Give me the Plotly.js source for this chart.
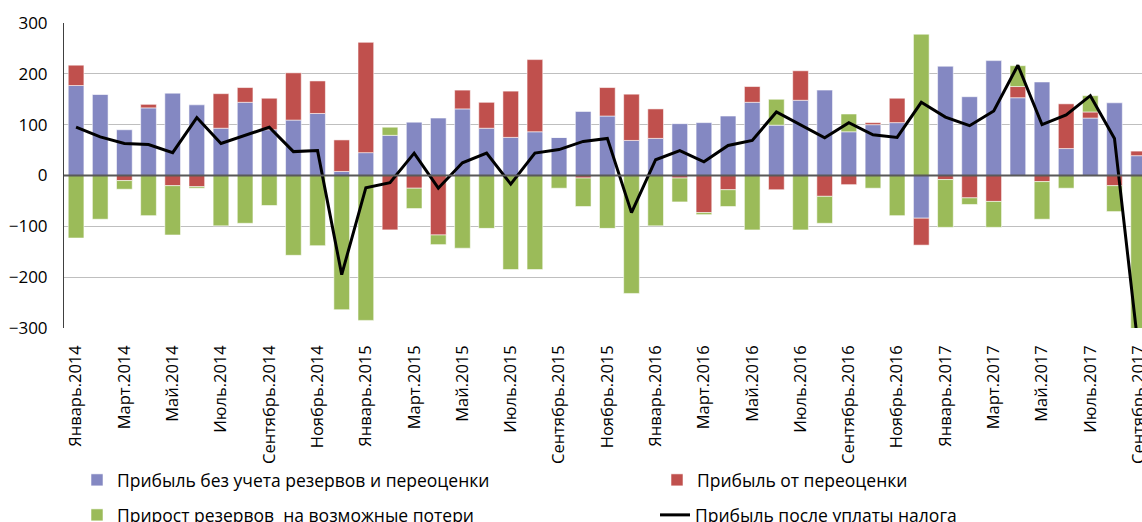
<!DOCTYPE html>
<html>
<head>
<meta charset="utf-8">
<script src="https://cdn.plot.ly/plotly-3.0.1.min.js"></script>
<style>
html,body{margin:0;padding:0;background:#fff;overflow:hidden;}
#chart{width:1142px;height:522px;}
</style>
</head>
<body>
<div id="chart"></div>
<script>
var monthNames = ["Январь","Февраль","Март","Апрель","Май","Июнь","Июль","Август","Сентябрь","Октябрь","Ноябрь","Декабрь"];
var years = [2014, 2015, 2016, 2017];
var lastMonthCount = 9; // data through Сентябрь.2017

var categories = [];
years.forEach(function (yr, yi) {
  var n = (yi === years.length - 1) ? lastMonthCount : 12;
  for (var m = 0; m < n; m++) categories.push(monthNames[m] + "." + yr);
});

var profitCore = [177,160,90,133,162,139,93,144,90,109,122,8,
                  45,79,105,113,131,93,75,86,75,126,117,69,
                  73,102,104,117,144,99,148,168,86,100,104,-84,
                  215,155,226,153,184,53,113,143,39];
var profitRevaluation = [40,0,-10,7,-20,-22,68,29,62,93,64,62,
                         217,-107,-25,-117,37,51,91,142,0,-5,56,91,
                         58,-5,-73,-28,31,-28,58,-41,-18,4,48,-53,
                         -8,-44,-51,22,-12,88,12,-20,9];
var reserveGrowth = [-123,-86,-17,-79,-97,-3,-99,-94,-59,-157,-138,-264,
                     -285,16,-40,-19,-143,-104,-185,-185,-25,-56,-104,-232,
                     -99,-47,-4,-33,-107,51,-107,-53,35,-25,-79,278,
                     -94,-13,-51,41,-74,-25,32,-51,-390];
var netProfit = [95,76,63,61,45,114,63,79,95,47,49,-195,
                 -24,-14,44,-25,25,44,-17,44,51,67,73,-73,
                 31,49,27,59,69,125,100,74,104,80,75,144,
                 115,98,127,217,100,119,157,73,-345];

var seriesNames = ["Прибыль без учета резервов и переоценки",
                   "Прибыль от переоценки",
                   "Прирост резервов  на возможные потери",
                   "Прибыль после уплаты налога"];

var tickCats = categories.filter(function (c, i) { return i % 2 === 0; });

var FONT = "'Open Sans', Lato, 'DejaVu Sans', sans-serif";
var barLine = {color: "rgba(255,255,255,0.55)", width: 1};

var traces = [
  {type: "bar", name: seriesNames[0], x: categories, y: profitCore,
   marker: {color: "#8488c2", line: barLine}, legend: "legend"},
  {type: "bar", name: seriesNames[1], x: categories, y: profitRevaluation,
   marker: {color: "#c0504d", line: barLine}, legend: "legend2"},
  {type: "bar", name: seriesNames[2], x: categories, y: reserveGrowth,
   marker: {color: "#9bbb59", line: barLine}, legend: "legend3"},
  {type: "scatter", mode: "lines", name: seriesNames[3], x: categories, y: netProfit,
   line: {color: "#000000", width: 3}, legend: "legend4"}
];

var W = 1142, H = 522;
function leg(px, py) {
  return {
    orientation: "h", xref: "container", yref: "container",
    x: px / W, y: 1 - py / H, xanchor: "left", yanchor: "middle",
    itemwidth: 30,
    font: {family: FONT, size: 17.5, color: "#000"},
    bgcolor: "rgba(0,0,0,0)", borderwidth: 0
  };
}

var layout = {
  width: W, height: H,
  margin: {l: 64, r: 0, t: 23, b: 194, pad: 0, autoexpand: false},
  paper_bgcolor: "#ffffff", plot_bgcolor: "#ffffff",
  barmode: "relative", bargap: 0.35,
  font: {family: FONT, size: 17, color: "#000"},
  xaxis: {
    type: "category", categoryorder: "array", categoryarray: categories,
    range: [-0.5, 44.14],
    tickmode: "array", tickvals: tickCats, ticktext: tickCats,
    tickangle: -90, ticks: "", showgrid: false, zeroline: false,
    showline: false, automargin: false, ticklabelstandoff: 13,
    tickfont: {family: FONT, size: 16.5, color: "#000"}
  },
  yaxis: {
    range: [-300, 300], tickmode: "array",
    tickvals: [-300,-200,-100,0,100,200,300],
    ticks: "", showgrid: true, gridcolor: "#bfbfbf", gridwidth: 1.3,
    zeroline: false, showline: true, linecolor: "#404040", linewidth: 1,
    ticklabelstandoff: 12, automargin: false,
    tickfont: {family: FONT, size: 17, color: "#000"}
  },
  shapes: [{type: "line", xref: "paper", yref: "y", x0: 0, x1: 1, y0: 0, y1: 0,
            line: {color: "#595959", width: 2}, layer: "above"}],
  legend: leg(77, 480),
  legend2: leg(657, 480),
  legend3: leg(77, 515),
  legend4: leg(655, 515),
  showlegend: true
};

Plotly.newPlot("chart", traces, layout, {displayModeBar: false, staticPlot: true});
</script>
</body>
</html>
